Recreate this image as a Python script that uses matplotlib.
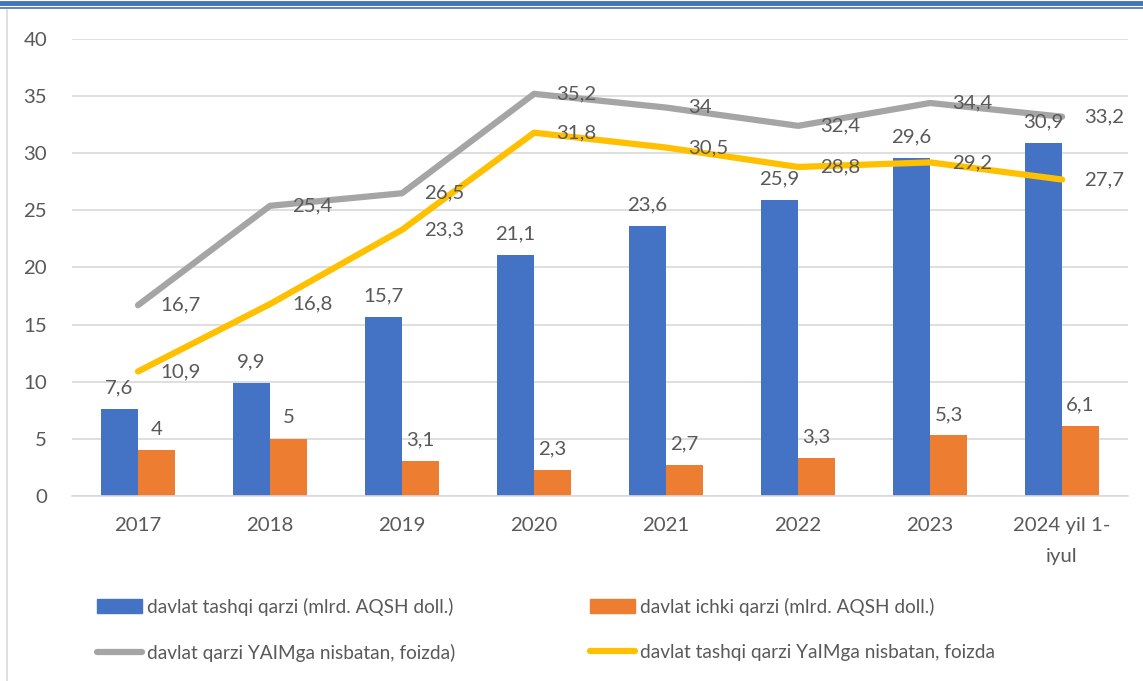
import numpy as np
import matplotlib.pyplot as plt
from matplotlib.lines import Line2D
from matplotlib.patches import Patch

plt.rcParams['font.family'] = ['Lato', 'DejaVu Sans']

years = ['2017', '2018', '2019', '2020', '2021', '2022', '2023', '2024 yil 1-\niyul']
tashqi = [7.6, 9.9, 15.7, 21.1, 23.6, 25.9, 29.6, 30.9]
ichki = [4, 5, 3.1, 2.3, 2.7, 3.3, 5.3, 6.1]
qarzi_yaim = [16.7, 25.4, 26.5, 35.2, 34, 32.4, 34.4, 33.2]
tashqi_yaim = [10.9, 16.8, 23.3, 31.8, 30.5, 28.8, 29.2, 27.7]

labels = ['davlat tashqi qarzi (mlrd. AQSH doll.)',
          'davlat ichki qarzi (mlrd. AQSH doll.)',
          'davlat qarzi YAIMga nisbatan, foizda)',
          'davlat tashqi qarzi YaIMga nisbatan, foizda']

blue = '#4472C4'
orange = '#ED7D31'
gray = '#A5A5A5'
yellow = '#FFC000'
txt = '#595959'

def fmt(v):
    s = ('%g' % v)
    return s.replace('.', ',')

fig = plt.figure(figsize=(11.43, 6.81), dpi=100)
ax = fig.add_axes([0.063, 0.2717, 0.924, 0.671])

x = np.arange(len(years))
w = 0.28
ax.bar(x - w / 2, tashqi, w, color=blue, zorder=2)
ax.bar(x + w / 2, ichki, w, color=orange, zorder=2)
ax.plot(x, qarzi_yaim, color=gray, lw=4.5, zorder=3, solid_capstyle='round')
ax.plot(x, tashqi_yaim, color=yellow, lw=4.5, zorder=3, solid_capstyle='round')

fs = 14.7
for i in range(len(x)):
    ax.annotate(fmt(tashqi[i]), (x[i] - w / 2, tashqi[i]), xytext=(0, 9),
                textcoords='offset points', ha='center', va='bottom', fontsize=fs, color=txt, zorder=4)
    ax.annotate(fmt(ichki[i]), (x[i] + w / 2, ichki[i]), xytext=(0, 9),
                textcoords='offset points', ha='center', va='bottom', fontsize=fs, color=txt, zorder=4)
    ax.annotate(fmt(qarzi_yaim[i]), (x[i], qarzi_yaim[i]), xytext=(16, 0),
                textcoords='offset points', ha='left', va='center', fontsize=fs, color=txt, zorder=4)
    ax.annotate(fmt(tashqi_yaim[i]), (x[i], tashqi_yaim[i]), xytext=(16, 0),
                textcoords='offset points', ha='left', va='center', fontsize=fs, color=txt, zorder=4)

ax.set_xlim(-0.5, len(years) - 0.5)
ax.set_ylim(0, 40)
ax.set_yticks(range(0, 41, 5))
ax.set_xticks(x)
ax.set_xticklabels(years, fontsize=fs, color=txt, linespacing=2.0)
ax.tick_params(axis='y', labelsize=fs, labelcolor=txt, length=0, pad=18)
ax.tick_params(axis='x', length=0, pad=15)
ax.grid(axis='y', color='#D9D9D9', lw=1.2, zorder=0)
for s in ['top', 'right', 'left']:
    ax.spines[s].set_visible(False)
ax.spines['bottom'].set_color('#D9D9D9')
ax.spines['bottom'].set_linewidth(1.2)

# frame decorations
fig.add_artist(Line2D([0, 1], [1 - 3 / 681, 1 - 3 / 681], color=blue, lw=3.5))
fig.add_artist(Line2D([0, 1], [1 - 8 / 681, 1 - 8 / 681], color=blue, lw=1.2))
fig.add_artist(Line2D([7 / 1143, 7 / 1143], [0, 1 - 10 / 681], color='#D9D9D9', lw=1.2))

lfs = 13.7
h1 = [Patch(color=blue), Line2D([], [], color=gray, lw=4.5, solid_capstyle='round')]
h2 = [Patch(color=orange), Line2D([], [], color=yellow, lw=4.5, solid_capstyle='round')]
leg_kw = dict(frameon=False, fontsize=lfs, labelcolor=txt, handlelength=2.35,
              handleheight=0.75, handletextpad=0.28, labelspacing=1.45, borderpad=0,
              borderaxespad=0)
fig.legend(h1, [labels[0], labels[2]], loc='upper left',
           bbox_to_anchor=(97 / 1143, 1 - 598 / 681), **leg_kw)
fig.legend(h2, [labels[1], labels[3]], loc='upper left',
           bbox_to_anchor=(590 / 1143, 1 - 598 / 681), **leg_kw)

fig.savefig('out.png', dpi=100)
